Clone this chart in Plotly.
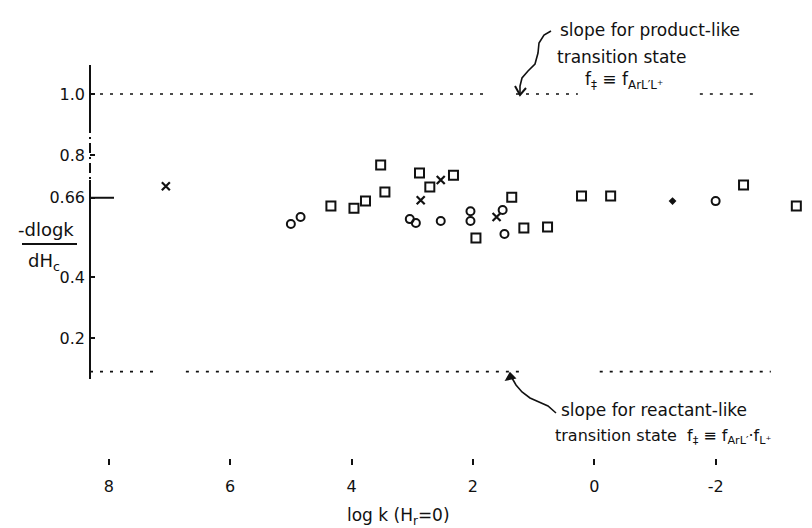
import plotly.graph_objects as go

# ---- data ----
circle_x = [5.00, 4.84, 3.04, 2.94, 2.53, 2.04, 2.04, 1.51, 1.48, -2.00]
circle_y = [0.574, 0.597, 0.590, 0.577, 0.584, 0.616, 0.584, 0.620, 0.541, 0.649]

square_x = [4.34, 3.96, 3.77, 3.52, 3.45, 2.88, 2.71, 2.32, 1.95, 1.36, 1.16, 0.77, 0.21, -0.27, -2.46, -3.33]
square_y = [0.633, 0.626, 0.649, 0.767, 0.679, 0.741, 0.695, 0.734, 0.528, 0.662, 0.561, 0.564, 0.666, 0.666, 0.702, 0.633]

cross_x = [7.06, 2.86, 2.53, 1.61]
cross_y = [0.698, 0.652, 0.718, 0.597]

dot_x = [-1.29]
dot_y = [0.649]

x_ticks = [8, 6, 4, 2, 0, -2]
x_ticklabels = ["8", "6", "4", "2", "0", "-2"]
y_ticks = [1.0, 0.8, 0.66, 0.4, 0.2]
y_ticklabels = ["1.0", "0.8", "0.66", "0.4", "0.2"]

product_slope = 1.0     # upper dotted reference line
reactant_slope = 0.09   # lower dotted reference line
top_segments = [(8.31, 1.75), (1.29, 0.27), (-1.74, -2.67)]
bottom_segments = [(8.31, 7.16), (6.73, 1.21), (-0.09, -2.91)]

X_RANGE = [8.31, -3.72]
Y_RANGE = [-0.193, 1.282]
L, R, T, B = 82, 0, 0, 78
W, H = 812, 528
PW, PH = W - L - R, H - T - B

FONT = "DejaVu Sans"
INK = "#111111"


def px(xp):
    return (xp - L) / PW


def py(yp):
    return (T + PH - yp) / PH


fig = go.Figure()
fig.add_trace(go.Scatter(x=circle_x, y=circle_y, mode="markers",
                         marker=dict(symbol="circle-open", size=8, color=INK, line=dict(width=2, color=INK))))
fig.add_trace(go.Scatter(x=square_x, y=square_y, mode="markers",
                         marker=dict(symbol="square-open", size=9, color=INK, line=dict(width=2, color=INK))))
fig.add_trace(go.Scatter(x=cross_x, y=cross_y, mode="markers",
                         marker=dict(symbol="x-thin-open", size=8, color=INK, line=dict(width=2.2, color=INK))))
fig.add_trace(go.Scatter(x=dot_x, y=dot_y, mode="markers",
                         marker=dict(symbol="diamond", size=6, color=INK)))

shapes = []
for x0, x1 in top_segments:
    shapes.append(dict(type="line", xref="x", yref="y", x0=x0, x1=x1, y0=product_slope, y1=product_slope,
                       line=dict(color=INK, width=1.6, dash="3px,7px")))
for x0, x1 in bottom_segments:
    shapes.append(dict(type="line", xref="x", yref="y", x0=x0, x1=x1, y0=reactant_slope, y1=reactant_slope,
                       line=dict(color=INK, width=1.6, dash="3px,7px")))

# y axis line (broken as in the scan)
shapes.append(dict(type="line", xref="paper", yref="paper", x0=0, x1=0, y0=py(57), y1=py(115),
                   line=dict(color=INK, width=2)))
shapes.append(dict(type="line", xref="paper", yref="paper", x0=0, x1=0, y0=py(115), y1=py(172),
                   line=dict(color=INK, width=2, dash="10px,4px,2px,4px")))
shapes.append(dict(type="line", xref="paper", yref="paper", x0=0, x1=0, y0=py(172), y1=py(371),
                   line=dict(color=INK, width=2)))
# long tick at 0.66
shapes.append(dict(type="line", xref="paper", yref="y", x0=0, x1=px(106), y0=0.66, y1=0.66,
                   line=dict(color=INK, width=2)))
# fraction bar of y title
shapes.append(dict(type="line", xref="paper", yref="paper", x0=px(14), x1=px(69), y0=py(236), y1=py(236),
                   line=dict(color=INK, width=2)))


def path(points):
    s = "M %f,%f" % (px(points[0][0]), py(points[0][1]))
    for a, b in points[1:]:
        s += " L %f,%f" % (px(a), py(b))
    return s


top_arrow = [(543, 23), (536, 27), (531, 35), (530, 45), (527, 56), (520, 63), (514, 70), (512, 78), (512, 86)]
shapes.append(dict(type="path", xref="paper", yref="paper", path=path(top_arrow),
                   line=dict(color=INK, width=1.6)))
shapes.append(dict(type="path", xref="paper", yref="paper", path=path([(507, 78), (512, 87), (518, 80)]),
                   line=dict(color=INK, width=2)))

bottom_arrow = [(548, 405), (540, 398), (531, 394), (522, 390), (514, 384), (508, 377), (504, 370)]
shapes.append(dict(type="path", xref="paper", yref="paper", path=path(bottom_arrow),
                   line=dict(color=INK, width=1.6)))
shapes.append(dict(type="path", xref="paper", yref="paper",
                   path=path([(498, 372), (502, 365), (507, 370)]) + " Z",
                   fillcolor=INK, line=dict(color=INK, width=1.5)))

ann = []


def text(s, x, y, size=15, xanchor="left"):
    ann.append(dict(text=s, x=px(x), y=py(y), xref="paper", yref="paper", showarrow=False,
                    xanchor=xanchor, yanchor="middle", borderpad=0,
                    font=dict(family=FONT, size=size, color=INK)))


text("slope for product-like", 551, 22, size=17)
text("transition state", 548, 49, size=17)
text("f<sub>‡</sub> ≡ f<sub>ArL′L⁺</sub>", 576, 72, size=17)
text("slope for reactant-like", 552, 402, size=17)
text("transition state  f<sub>‡</sub> ≡ f<sub>ArL′</sub>·f<sub>L⁺</sub>", 546, 428, size=16)
text("-dlogk", 38, 221, size=18, xanchor="center")
text("dH<sub>c</sub>", 36, 254, size=18, xanchor="center")
text("log k (H<sub>r</sub>=0)", 390, 508, size=17, xanchor="center")

fig.update_layout(
    width=W, height=H,
    margin=dict(l=L, r=R, t=T, b=B, autoexpand=False),
    paper_bgcolor="white", plot_bgcolor="white",
    showlegend=False,
    shapes=shapes, annotations=ann,
    font=dict(family=FONT, size=16, color=INK),
)
fig.update_xaxes(range=X_RANGE, showgrid=False, zeroline=False, showline=False,
                 ticks="outside", ticklen=6, tickwidth=1.5, tickcolor=INK,
                 tickvals=x_ticks, ticktext=x_ticklabels, ticklabelstandoff=8,
                 tickfont=dict(family=FONT, size=16, color=INK))
fig.update_yaxes(range=Y_RANGE, showgrid=False, zeroline=False, showline=False,
                 ticks="inside", ticklen=5, tickwidth=2, tickcolor=INK,
                 tickvals=y_ticks, ticktext=y_ticklabels, ticklabelstandoff=4,
                 tickfont=dict(family=FONT, size=16, color=INK))

fig.write_html("out.html")
